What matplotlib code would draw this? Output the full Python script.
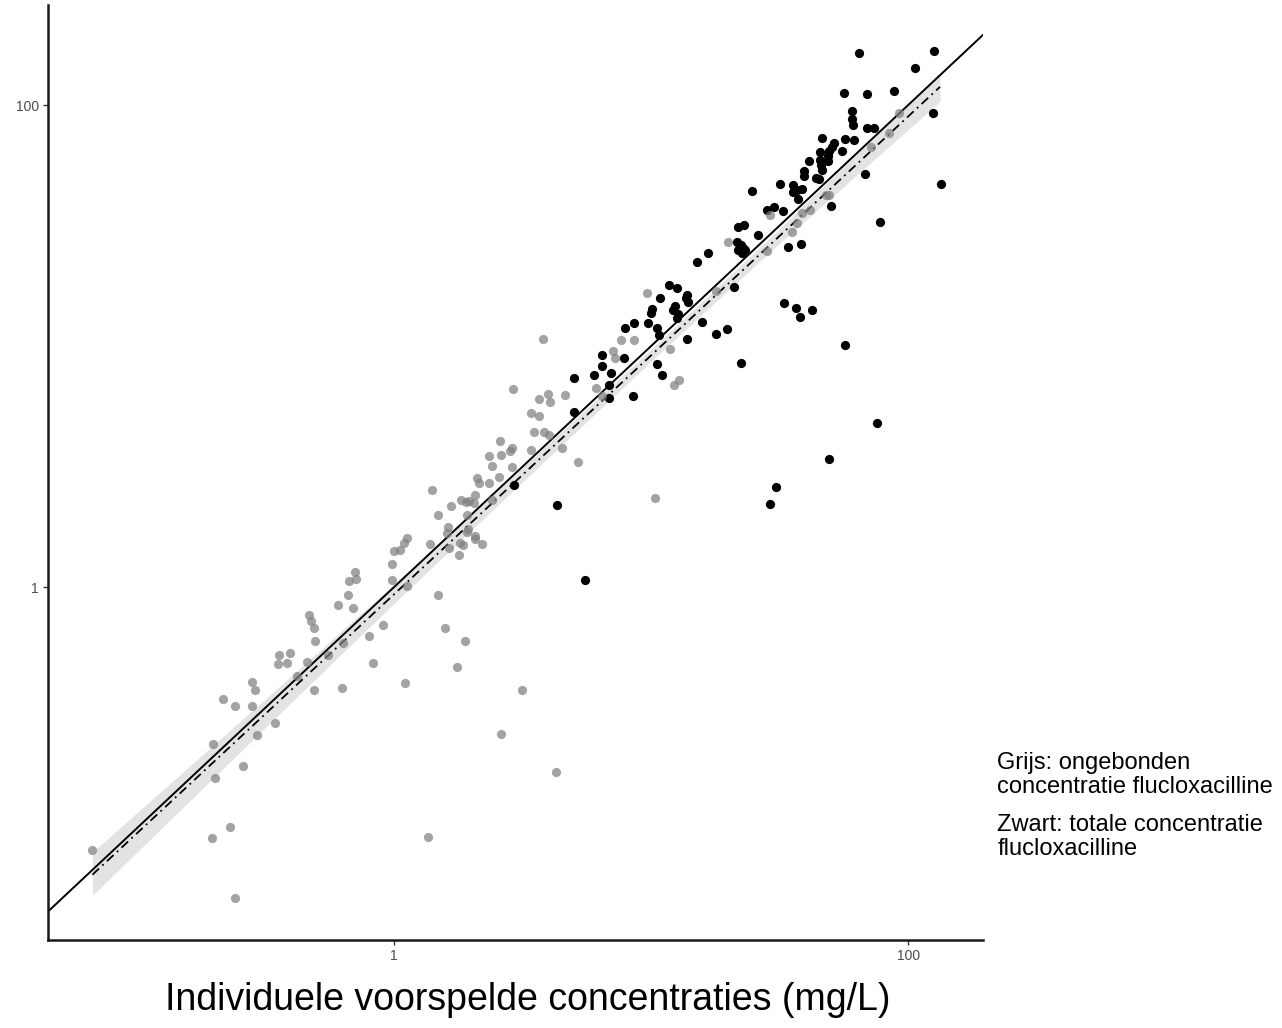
import matplotlib
matplotlib.use("Agg")
import matplotlib.pyplot as plt
import numpy as np

# Unbound flucloxacillin: predicted (x) vs observed (y), mg/L
grey_pred = [0.067, 0.467, 0.475, 0.489, 0.906, 0.799, 0.493, 0.357, 0.394, 0.354,
             0.383, 0.634, 0.554, 0.458, 0.829, 0.280, 0.288, 0.216, 0.241, 0.280,
             0.489, 0.628, 0.344, 0.293, 0.198, 0.258, 0.201, 0.230, 0.196, 0.241,
             0.419,
             0.605, 0.692, 0.662, 0.705, 0.668, 0.711, 0.982, 0.982, 1.124, 1.000,
             1.055, 1.124, 1.094, 1.381, 1.483, 1.579, 1.406, 1.667, 1.483, 1.823,
             1.905, 1.958, 2.066, 2.047, 1.923, 1.622, 1.607, 1.923, 1.941, 2.066,
             2.066, 2.199, 1.637, 1.806, 1.855, 1.790, 2.103, 2.142, 2.343, 2.562,
             2.405, 2.878, 2.343, 2.608, 2.827, 2.878, 2.585, 2.904,
             3.80, 3.665, 3.975, 4.046, 4.63, 3.41, 3.665, 3.505, 3.835, 4.01,
             4.50, 3.41, 5.20, 2.405, 7.64, 8.59, 9.64, 7.11, 7.24, 6.11,
             11.86, 12.85, 12.27, 10.36, 17.9, 28.3, 6.45,
             19.9, 29.0, 38.7, 41.6, 35.4, 37.0, 48.0, 49.3, 71.8, 84.4, 92.2,
             1.10, 1.356, 2.61, 3.15, 4.27, 1.89, 1.76]
grey_obs = [0.081, 0.765, 0.723, 0.676, 0.695, 0.626, 0.597, 0.522, 0.532, 0.479,
            0.484, 0.586, 0.522, 0.489, 0.484, 0.404, 0.374, 0.343, 0.321, 0.321,
            0.374, 0.381, 0.273, 0.243, 0.223, 0.181, 0.161, 0.101, 0.091, 0.051,
            0.428,
            0.842, 0.818, 0.927, 1.154, 1.059, 1.079, 1.246, 1.069, 1.010, 1.410,
            1.424, 1.597, 1.523, 1.508, 0.927, 0.676, 2.526, 2.168, 1.990, 2.296,
            2.254, 2.275, 2.408, 2.232, 1.990, 1.774, 1.675, 1.691, 1.741, 1.629,
            1.582, 1.508, 1.452, 1.523, 1.493, 1.358, 2.834, 2.701, 2.701, 2.858,
            3.177, 3.147, 3.497, 3.530, 3.666, 3.775, 4.035, 6.63,
            10.69, 6.03, 6.32, 5.86, 6.26, 5.27, 5.12, 4.40, 4.40, 4.27,
            3.775, 3.70, 3.30, 2.296, 10.59, 10.59, 16.6, 9.53, 8.91, 6.69,
            9.72, 7.22, 6.89, 2.34, 16.9, 24.8, 6.20,
            27.0, 35.0, 35.6, 36.7, 29.7, 32.4, 42.3, 42.3, 67.0, 76.6, 92.7,
            0.40, 0.092, 0.245, 0.374, 0.171, 0.597, 0.466]

# Total flucloxacillin: predicted (x) vs observed (y), mg/L
black_pred = [2.93, 4.31, 5.54, 5.02, 5.02, 6.00, 6.45, 6.45, 6.99, 6.86,
              6.86, 7.85, 7.92, 8.59, 8.51, 9.73, 10.55, 10.09, 10.0, 10.84,
              10.74, 10.55, 11.04, 11.75, 12.62, 12.4, 12.18, 12.74, 12.62, 13.8,
              13.7, 13.9, 13.8, 15.1, 16.7, 15.8, 17.9, 19.8, 21.0, 22.4,
              23.2, 30.6, 29.0, 32.9, 36.6, 42.3, 38.0, 56.9, 75.7, 49.3,
              64.5, 126, 106, 56.4, 69.2, 88.2, 60.5, 60.5, 61.1, 69.2,
              73.8, 125, 134, 68.0, 77.8, 46.3, 56.9, 61.7, 51.5, 50.6,
              49.3, 45.5, 55.3, 48.9, 48.9, 45.5, 45.9, 46.3, 41.2, 39.4,
              39.4, 43.9, 45.1, 31.8, 35.7, 35.7, 37.0, 38.7, 24.7, 37.3,
              28.3, 30.1, 32.6, 50.1, 21.8, 23.0, 26.1, 21.6, 22.4, 22.8,
              21.8, 22.6, 34.1, 38.3]
black_obs = [2.65, 2.19, 1.07, 7.37, 5.32, 7.58, 9.18, 8.26, 7.73, 6.89,
             6.08, 8.91, 11.88, 12.46, 6.20, 12.46, 11.88, 14.24, 13.7, 15.8,
             11.1, 8.42, 7.58, 17.9, 17.4, 14.66, 14.1, 13.57, 13.06, 16.3,
             15.8, 15.2, 10.69, 22.3, 24.3, 12.6, 11.2, 11.8, 17.6, 8.50,
             25.0, 2.60, 2.21, 15.1, 14.4, 14.1, 13.2, 10.1, 4.79, 3.40,
             164, 167, 142, 112, 111, 114, 94.4, 87.5, 82.6, 80.3,
             80.3, 92.7, 47.0, 51.7, 32.7, 72.9, 72.3, 71.6, 69.5, 67.0,
             64.4, 63.8, 64.4, 61.4, 58.6, 59.1, 56.4, 53.7, 58.6, 53.2,
             50.7, 49.8, 49.3, 47.0, 46.6, 43.6, 44.4, 44.8, 44.0, 40.7,
             36.7, 37.7, 36.3, 38.1, 31.2, 31.8, 28.9, 27.0, 26.2, 25.5,
             25.0, 24.3, 25.7, 26.5]

# Fitted regression line and its confidence band
fit_x = [0.067, 133]
fit_y = [0.064, 119]
band_x = [0.067, 0.3, 1, 3, 10, 30, 133]
band_lo = [0.0525, 0.248, 0.856, 2.59, 8.65, 25.4, 103.5]
band_hi = [0.0794, 0.327, 1.029, 2.98, 9.70, 29.1, 136.5]

x_ticks = [1, 100]
y_ticks = [1, 100]
x_label = "Individuele voorspelde concentraties (mg/L)"
note_grey = "Grijs: ongebonden\nconcentratie flucloxacilline"
note_black = "Zwart: totale concentratie\nflucloxacilline"

fig = plt.figure(figsize=(12.82, 10.28), dpi=100)
ax = fig.add_axes([0.0374, 0.0856, 0.7296, 0.9095])
ax.set_xscale("log")
ax.set_yscale("log")
ax.set_xlim(0.045, 196)
ax.set_ylim(0.0343, 260)

ax.fill_between(band_x, band_lo, band_hi, color="#e3e3e3", linewidth=0, zorder=1)
ax.axline((1, 1), (100, 100), color="black", linewidth=1.4, zorder=2)
ax.plot(fit_x, fit_y, color="black", linewidth=1.3,
        linestyle=(0, (5, 2.5, 1, 2.5)), zorder=3)

ax.scatter(black_pred, black_obs, s=44, color="black", linewidths=0, zorder=4)
ax.scatter(grey_pred, grey_obs, s=44, color="#808080", alpha=0.72,
           linewidths=0, zorder=5)

for side in ("top", "right"):
    ax.spines[side].set_visible(False)
for side in ("left", "bottom"):
    ax.spines[side].set_linewidth(1.8)
    ax.spines[side].set_color("#1a1a1a")

ax.set_xticks(x_ticks)
ax.set_yticks(y_ticks)
ax.set_xticklabels([str(t) for t in x_ticks])
ax.set_yticklabels([str(t) for t in y_ticks])
ax.minorticks_off()
ax.tick_params(axis="both", which="major", direction="out", length=3.5,
               width=1.0, color="#333333", labelsize=10, labelcolor="#4d4d4d",
               pad=3)
for lab in ax.get_xticklabels() + ax.get_yticklabels():
    lab.set_family("Liberation Sans")

fig.text(0.412, 0.027, x_label, ha="center", va="center",
         fontsize=27, family="Liberation Sans", color="black")
fig.text(0.778, 0.2461, note_grey, ha="left", va="center", fontsize=17,
         family="Liberation Sans", linespacing=1.17)
fig.text(0.778, 0.1858, note_black, ha="left", va="center", fontsize=17,
         family="Liberation Sans", linespacing=1.17)

fig.savefig("out.png", dpi=100, facecolor="white")
